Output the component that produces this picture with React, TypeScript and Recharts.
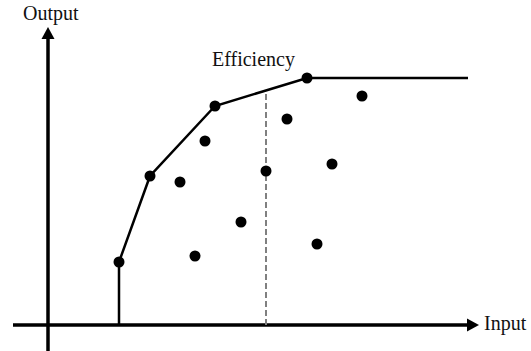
import React from 'react';
import { ComposedChart, XAxis, YAxis, Line, Scatter, ReferenceLine } from 'recharts';

// Frontier (efficient firms), in input/output units
const frontierInput = [71, 71, 102, 167, 259, 420];
const frontierOutput = [0, 63, 149, 219, 247, 247];
const frontierDotIndex = [1, 2, 3, 4];

// Inefficient firms
const firmInput = [157, 132, 147, 193, 218, 239, 284, 314, 269];
const firmOutput = [184, 143, 69, 103, 154, 206, 161, 229, 81];

// Efficiency projection (dashed)
const projInput = 218;
const projOutput = 233;

// Axis extents
const xAxisStart = -35;
const xAxisEnd = 420;
const xArrowTip = 431;
const yAxisStart = -26;
const yAxisEnd = 287;
const yArrowTip = 298;

const textLabels = ['Output', 'Efficiency', 'Input'];
const labelInput = [-25, 164, 436];
const labelOutput = [305, 259, -5];

const frontierData = frontierInput.map((x, i) => ({ x, y: frontierOutput[i] }));
const frontierDots = frontierDotIndex.map((i) => ({ x: frontierInput[i], y: frontierOutput[i] }));
const firmData = firmInput.map((x, i) => ({ x, y: firmOutput[i] }));
const arrowData = [
  { x: xArrowTip, y: 0, dir: 'right' },
  { x: 0, y: yArrowTip, dir: 'up' },
];
const labelData = textLabels.map((t, i) => ({ x: labelInput[i], y: labelOutput[i], text: t }));

const Arrow = (props: any) => {
  const { cx, cy, payload } = props;
  if (cx == null || cy == null) return null;
  const pts =
    payload.dir === 'right'
      ? `${cx},${cy} ${cx - 12},${cy - 6.5} ${cx - 12},${cy + 6.5}`
      : `${cx},${cy} ${cx - 6.5},${cy + 12} ${cx + 6.5},${cy + 12}`;
  return <polygon points={pts} fill="#000" />;
};

const Dot = (props: any) => {
  const { cx, cy } = props;
  if (cx == null || cy == null) return null;
  return <circle cx={cx} cy={cy} r={5.5} fill="#000" />;
};

const TextShape = (props: any) => {
  const { cx, cy, payload } = props;
  if (cx == null || cy == null) return null;
  return (
    <text x={cx} y={cy} fontFamily="'Liberation Serif', 'Times New Roman', serif" fontSize={20} fill="#111" textAnchor="start">
      {payload.text}
    </text>
  );
};

export default function App() {
  return (
    <div style={{ position: 'absolute', left: 0, top: 0, width: 531, height: 351, background: '#fff' }}>
      <ComposedChart width={531} height={351} margin={{ top: 0, right: 0, bottom: 0, left: 0 }}>
        <XAxis type="number" dataKey="x" domain={[-48, 483]} hide allowDataOverflow />
        <YAxis type="number" dataKey="y" domain={[-26, 325]} hide allowDataOverflow />
        <ReferenceLine
          segment={[{ x: xAxisStart, y: 0 }, { x: xAxisEnd, y: 0 }]}
          stroke="#000"
          strokeWidth={3.5}
          ifOverflow="visible"
        />
        <ReferenceLine
          segment={[{ x: 0, y: yAxisStart }, { x: 0, y: yAxisEnd }]}
          stroke="#000"
          strokeWidth={3.5}
          ifOverflow="visible"
        />
        <ReferenceLine
          segment={[{ x: projInput, y: 0 }, { x: projInput, y: projOutput }]}
          stroke="#808080"
          strokeWidth={2}
          strokeDasharray="6 3"
          ifOverflow="visible"
        />
        <Line
          data={frontierData}
          dataKey="y"
          type="linear"
          stroke="#000"
          strokeWidth={2.5}
          dot={false}
          activeDot={false}
          isAnimationActive={false}
        />
        <Scatter data={frontierDots} dataKey="y" shape={Dot} isAnimationActive={false} />
        <Scatter data={firmData} dataKey="y" shape={Dot} isAnimationActive={false} />
        <Scatter data={arrowData} dataKey="y" shape={Arrow} isAnimationActive={false} />
        <Scatter data={labelData} dataKey="y" shape={TextShape} isAnimationActive={false} />
      </ComposedChart>
    </div>
  );
}
